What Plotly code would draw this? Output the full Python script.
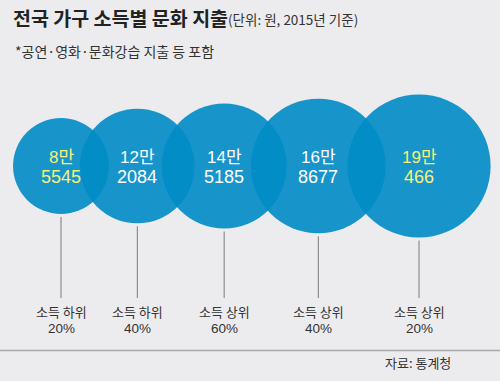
import numpy as np
import plotly.graph_objects as go

# ---- data ----
groups_top = ["소득 하위", "소득 하위", "소득 상위", "소득 상위", "소득 상위"]
groups_pct = ["20%", "40%", "60%", "40%", "20%"]
spending = [85545, 122084, 145185, 168677, 190466]  # 원
man_part = ["8만", "12만", "14만", "16만", "19만"]
rest_part = ["5545", "2084", "5185", "8677", "466"]
highlight = [True, False, False, False, True]

# ---- layout helpers (pixel coordinate axes) ----
W, H = 500, 381
k = 0.164                      # radius (px) per sqrt(won)
radii = [k * np.sqrt(v) for v in spending]
cy = 166
x0 = 61
xs = [x0]
for i in range(1, len(radii)):
    xs.append(xs[-1] + 0.725 * (radii[i - 1] + radii[i]))

BG = "#ececee"
FONT = "Noto Sans CJK KR"
NUMFONT = "Liberation Sans, Noto Sans CJK KR"
fig = go.Figure()

# connector lines
for x, r in zip(xs, radii):
    fig.add_trace(go.Scatter(x=[x, x], y=[cy + r + 3, 298], mode="lines",
                             line=dict(color="#7a7a7a", width=1),
                             hoverinfo="skip", showlegend=False))

# bubbles
fig.add_trace(go.Scatter(
    x=xs, y=[cy] * len(xs), mode="markers",
    marker=dict(size=[2 * r for r in radii], color="#008cc6", opacity=0.9,
                line=dict(width=0)),
    hoverinfo="skip", showlegend=False))

ann = []
for x, a, b, hl, t, p in zip(xs, man_part, rest_part, highlight, groups_top, groups_pct):
    c = "#f7f07a" if hl else "#ffffff"
    ann.append(dict(x=x, y=cy - 9, text=a, showarrow=False, xref="x", yref="y",
                    font=dict(size=17, color=c, family=NUMFONT)))
    ann.append(dict(x=x, y=cy + 11, text=b, showarrow=False, xref="x", yref="y",
                    font=dict(size=18, color=c, family=NUMFONT)))
    ann.append(dict(x=x, y=311, text=t, showarrow=False, xref="x", yref="y",
                    borderpad=0,
                    font=dict(size=13, color="#333333", family=FONT)))
    ann.append(dict(x=x, y=328, text=p, showarrow=False, xref="x", yref="y",
                    borderpad=0,
                    font=dict(size=13.5, color="#333333", family=NUMFONT)))

ann.append(dict(x=11, y=17, xanchor="left", text="<b>전국 가구 소득별 문화 지출</b>",
                showarrow=False, xref="x", yref="y",
                font=dict(size=19.5, color="#222222", family=FONT)))
ann.append(dict(x=226, y=19, xanchor="left", text="(단위: 원, 2015년 기준)",
                showarrow=False, xref="x", yref="y",
                font=dict(size=13.5, color="#333333", family=FONT)))
ann.append(dict(x=13, y=51, xanchor="left", text="*공연·영화·문화강습 지출 등 포함",
                showarrow=False, xref="x", yref="y",
                font=dict(size=14, color="#333333", family=FONT)))
ann.append(dict(x=453, y=362, xanchor="right", text="자료: 통계청",
                showarrow=False, xref="x", yref="y",
                font=dict(size=13, color="#333333", family=FONT)))

shapes = [dict(type="line", x0=0, x1=W, y0=350.5, y1=350.5, xref="x", yref="y",
               line=dict(color="#a8a8a8", width=1.5))]

fig.update_layout(
    width=W, height=H, margin=dict(l=0, r=0, t=0, b=0),
    paper_bgcolor=BG, plot_bgcolor=BG,
    xaxis=dict(range=[0, W], visible=False, fixedrange=True),
    yaxis=dict(range=[H, 0], visible=False, fixedrange=True),
    annotations=ann, shapes=shapes, showlegend=False,
)
fig.write_html("out.html", config={"displayModeBar": False},
               post_script="document.body.style.margin='0';"
                           "document.body.style.overflow='hidden';"
                           "document.body.style.background='#ececee';")
